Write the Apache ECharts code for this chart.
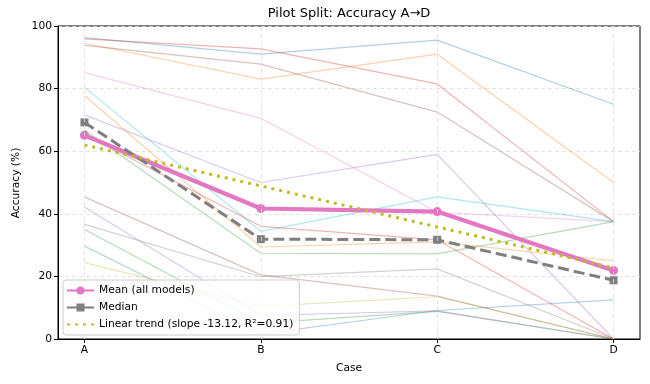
<!DOCTYPE html>
<html>
<head>
<meta charset="utf-8">
<script src="https://cdn.jsdelivr.net/npm/echarts@6/dist/echarts.min.js"></script>
<style>html,body{margin:0;padding:0;background:#fff}#c{width:650px;height:384px}</style>
</head>
<body>
<div id="c"></div>
<script>
// ---- data ----
const categories = ['A', 'B', 'C', 'D'];
const yTicks = [0, 20, 40, 60, 80, 100];

// per-model accuracies (A, B, C, D), in colour-cycle order
const m01 = [96.3, 91.0, 95.5, 75.0];
const m02 = [94.5, 83.0, 91.0, 50.0];
const m03 = [66.8, 27.4, 27.2, 37.5];
const m04 = [95.9, 92.7, 81.5, 37.5];
const m05 = [71.6, 50.0, 59.0, 0.0];
const m06 = [93.8, 87.8, 72.5, 37.5];
const m07 = [85.1, 70.5, 40.5, 37.5];
const m08 = [36.6, 19.9, 22.4, 0.0];
const m09 = [24.4, 10.4, 13.5, 0.0];
const m10 = [80.4, 34.4, 45.4, 37.5];
const m11 = [29.7, 1.6, 9.1, 12.5];
const m12 = [77.8, 29.4, 31.0, 25.0];
const m13 = [35.0, 5.1, 8.8, 0.0];
const m14 = [65.5, 36.0, 31.7, 0.0];
const m15 = [42.2, 7.5, 9.0, 0.0];
const m16 = [45.4, 20.5, 13.7, 0.0];

const meanValues = [65.1, 41.7, 40.7, 21.9];
const medianValues = [69.2, 31.9, 31.7, 18.75];
const trendValues = [62.0, 48.9, 35.8, 22.7];

const meanName = 'Mean (all models)';
const medianName = 'Median';
const trendName = 'Linear trend (slope -13.12, R²=0.91)';

// ---- styling ----
const models = [m01, m02, m03, m04, m05, m06, m07, m08, m09, m10, m11, m12, m13, m14, m15, m16];
const tab10 = ['#1f77b4', '#ff7f0e', '#2ca02c', '#d62728', '#9467bd', '#8c564b', '#e377c2', '#7f7f7f', '#bcbd22', '#17becf'];
const FONT = 'DejaVu Sans';
const FS = 10.7;
const catIdx = categories.map((c, i) => i);
const toPts = vals => vals.map((v, i) => [catIdx[i], v]);

const series = [];
models.forEach((vals, k) => {
  series.push({
    type: 'line', data: toPts(vals), symbol: 'none', silent: true, z: 2,
    lineStyle: { color: tab10[k % 10], width: 1.2, opacity: 0.35 }
  });
});
// vertical grid lines at category positions
series.push({
  type: 'line', data: [[0, 0]], symbol: 'none', silent: true, z: 1,
  lineStyle: { opacity: 0 },
  markLine: {
    silent: true, symbol: 'none', animation: false,
    label: { show: false },
    lineStyle: { color: '#dcdcdc', type: [4, 3], width: 0.8 },
    data: catIdx.map(i => ({ xAxis: i }))
  }
});
series.push({
  name: meanName, type: 'line', data: toPts(meanValues), z: 3,
  symbol: 'circle', symbolSize: 9,
  itemStyle: { color: '#e377c2' },
  lineStyle: { color: '#e377c2', width: 4.2 }
});
series.push({
  name: medianName, type: 'line', data: toPts(medianValues), z: 4,
  symbol: 'rect', symbolSize: 8,
  itemStyle: { color: '#7f7f7f' },
  lineStyle: { color: '#7f7f7f', width: 3, type: [11, 5], cap: 'butt' }
});
series.push({
  name: trendName, type: 'line', data: toPts(trendValues), z: 5,
  symbol: 'none',
  itemStyle: { color: '#bcbd22' },
  lineStyle: { color: '#bcbd22', width: 3, type: [3, 5], cap: 'butt' }
});

const chart = echarts.init(document.getElementById('c'), null, { renderer: 'canvas' });
chart.setOption({
  animation: false,
  backgroundColor: '#fff',
  textStyle: { fontFamily: FONT },
  grid: { left: 58, top: 26, width: 582, height: 313, show: true, borderColor: '#000', borderWidth: 1, backgroundColor: 'transparent' },
  xAxis: {
    type: 'value', min: -0.15, max: 3.15,
    axisLine: { show: true, onZero: false, lineStyle: { color: '#000', width: 1 } },
    axisTick: { show: true, inside: false, length: 4, lineStyle: { color: '#000' }, customValues: catIdx },
    axisLabel: { show: true, margin: 6, fontSize: FS, color: '#000', fontFamily: FONT,
      customValues: catIdx, formatter: v => categories[Math.round(v)] },
    splitLine: { show: false }
  },
  yAxis: {
    type: 'value', min: yTicks[0], max: yTicks[yTicks.length - 1], interval: 20,
    axisLine: { show: true, onZero: false, lineStyle: { color: '#000', width: 1 } },
    axisTick: { show: true, inside: false, length: 4, lineStyle: { color: '#000' } },
    axisLabel: { margin: 6, fontSize: FS, color: '#000', fontFamily: FONT },
    splitLine: { show: true, lineStyle: { color: '#dcdcdc', type: [4, 3], width: 0.8 } }
  },
  legend: {
    data: [
      { name: meanName },
      { name: medianName, lineStyle: { type: [11, 5] } },
      { name: trendName, itemStyle: { opacity: 0 } }
    ],
    orient: 'vertical', left: 63, top: 280, z: 10,
    itemWidth: 27, itemHeight: 10, itemGap: 6,
    padding: [5, 6, 5, 3],
    backgroundColor: 'rgba(255,255,255,0.8)', borderColor: '#cccccc', borderWidth: 1, borderRadius: 3,
    textStyle: { fontSize: FS, color: '#000', fontFamily: FONT }
  },
  graphic: [
    { type: 'text', x: 349, y: 14, z: 10, style: { text: 'Pilot Split: Accuracy A→D', font: '13px "DejaVu Sans"', fill: '#000', textAlign: 'center', textVerticalAlign: 'middle' } },
    { type: 'text', x: 349, y: 368, z: 10, style: { text: 'Case', font: FS + 'px "DejaVu Sans"', fill: '#000', textAlign: 'center', textVerticalAlign: 'middle' } },
    { type: 'text', x: 16, y: 183, rotation: Math.PI / 2, z: 10, style: { text: 'Accuracy (%)', font: FS + 'px "DejaVu Sans"', fill: '#000', textAlign: 'center', textVerticalAlign: 'middle' } }
  ],
  series: series
});
</script>
</body>
</html>
